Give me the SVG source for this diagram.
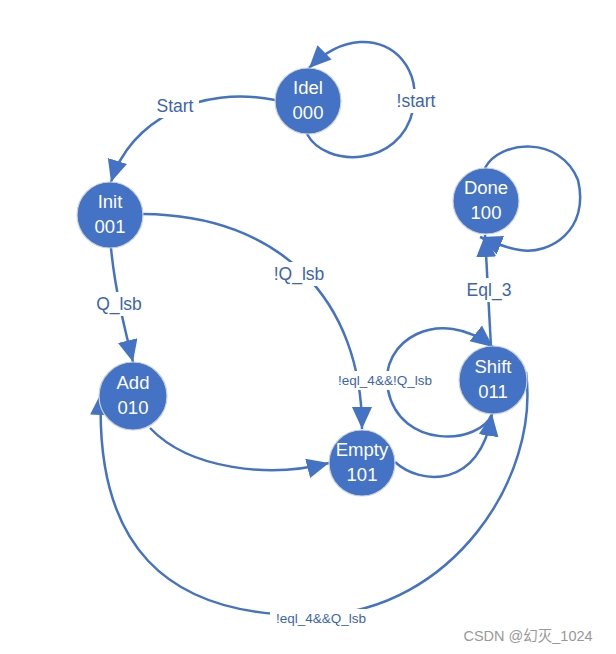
<svg xmlns="http://www.w3.org/2000/svg" width="616" height="654" viewBox="0 0 616 654">
<defs>
<marker id="arr" markerUnits="userSpaceOnUse" markerWidth="24" markerHeight="22" refX="22" refY="10" orient="auto">
<path d="M0,0 L22,10 L0,20 Z" fill="#4472C4"/>
</marker>
<style>
.edge{fill:none;stroke:#4472C4;stroke-width:2.5;marker-end:url(#arr)}
.node circle{fill:#4472C4;stroke:#c9d1e0;stroke-width:1.2}
.node text{fill:#fff;font-family:"Liberation Sans","Noto Sans",sans-serif;font-size:18.5px;text-anchor:middle}
.lbl{fill:#3c64b1;font-family:"Liberation Sans","Noto Sans",sans-serif;font-size:17.5px;text-anchor:middle}
.lbls{fill:#3c64b1;font-family:"Liberation Sans","Noto Sans",sans-serif;font-size:13.5px;text-anchor:middle}
.bg{fill:#fff}
</style>
</defs>
<rect width="616" height="654" fill="#fff"/>
<g id="connectors">
<path class="edge" d="M307,134 C325,168 400,168 413,110 C421,70 395,40 360,42 C342,43 325,52 309,68"/>
<path class="edge" d="M275,100 C200,85 130,120 111,182"/>
<path class="edge" d="M111,248 C115,290 125,330 133,362"/>
<path class="edge" d="M143,214 C280,215 362,300 362,429"/>
<path class="edge" d="M150,428 C190,470 270,478 329,463"/>
<path class="edge" d="M395,462 C420,485 480,490 492,414"/>
<path class="edge" d="M492,414 C480,445 400,450 388,390 C378,340 440,305 493,347"/>
<path class="edge" d="M491,347 L485,235"/>
<path class="edge" d="M485,168 C500,140 560,135 578,180 C590,230 550,255 520,250 C505,248 495,243 480,237"/>
<path class="edge" d="M526,372 C540,480 450,610 320,615 C160,620 95,540 101,393"/>
<rect class="bg" x="396" y="89" width="40" height="24"/>
<text class="lbl" x="416" y="107">!start</text>
<rect class="bg" x="151" y="94" width="48" height="24"/>
<text class="lbl" x="175" y="112">Start</text>
<rect class="bg" x="93" y="292" width="52" height="24"/>
<text class="lbl" x="119" y="310">Q_lsb</text>
<rect class="bg" x="269" y="262" width="60" height="24"/>
<text class="lbl" x="299" y="280">!Q_lsb</text>
<rect class="bg" x="464" y="278" width="52" height="24"/>
<text class="lbl" x="489" y="296">Eql_3</text>
<rect class="bg" x="332" y="371" width="107" height="19"/>
<text class="lbls" x="385" y="385">!eql_4&amp;&amp;!Q_lsb</text>
<rect class="bg" x="270" y="609" width="103" height="19"/>
<text class="lbls" x="321" y="623">!eql_4&amp;&amp;Q_lsb</text>
</g>
<g id="Idel" class="node"><circle cx="308" cy="101" r="33"/><text x="308" y="94">Idel</text><text x="308" y="119">000</text></g>
<g id="Init" class="node"><circle cx="110" cy="215" r="33"/><text x="110" y="208">Init</text><text x="110" y="233">001</text></g>
<g id="Done" class="node"><circle cx="486" cy="201" r="33"/><text x="486" y="194">Done</text><text x="486" y="219">100</text></g>
<g id="Shift" class="node"><circle cx="493" cy="380" r="34"/><text x="493" y="373">Shift</text><text x="493" y="398">011</text></g>
<g id="Empty" class="node"><circle cx="362" cy="463" r="33"/><text x="362" y="456">Empty</text><text x="362" y="481">101</text></g>
<g id="Add" class="node"><circle cx="133" cy="396" r="34"/><text x="133" y="389">Add</text><text x="133" y="414">010</text></g>
<text x="528" y="641" fill="#999999" font-family="'Liberation Sans','Noto Sans CJK SC',sans-serif" font-size="14.5" text-anchor="middle">CSDN @幻灭_1024</text>
</svg>
